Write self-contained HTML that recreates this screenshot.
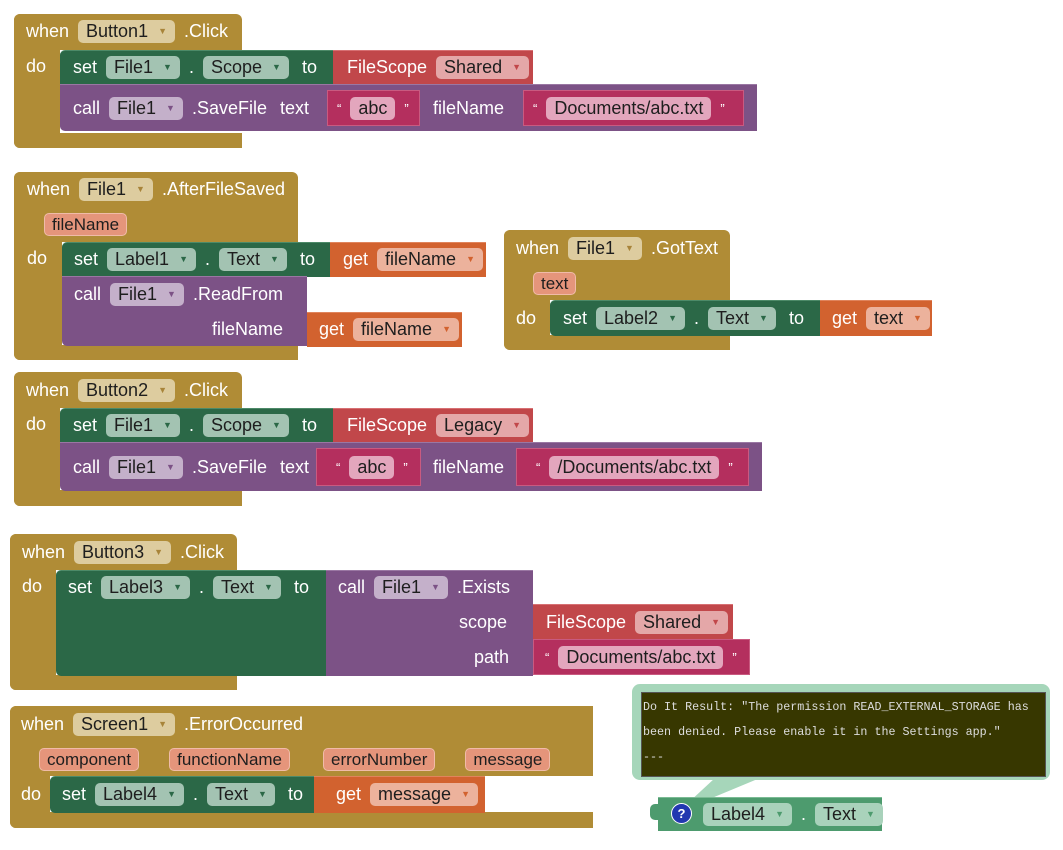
<!DOCTYPE html>
<html><head><meta charset="utf-8"><style>
body{margin:0;width:1063px;height:850px;background:#fff;position:relative;overflow:hidden;font-family:"Liberation Sans",Arial,sans-serif;font-size:18px}
.x{position:absolute}
.g{background:#B08C36}
.gr{background:#2B6847;border-top:1px solid #4d8a68}
.pu{background:#7C5286;border-top:1px solid #9a77a3}
.rd{background:#C1474A;border-top:1px solid #d77073}
.mg{background:#B42F5E;border:1px solid #c95a80;box-sizing:border-box}
.or{background:#D2622F;border-top:1px solid #e0845c}
.r{position:absolute;display:flex;align-items:center;gap:9px;white-space:nowrap;color:#fff;height:26px}
.p{border-radius:5px;padding:0 8px;height:23px;line-height:23px;color:#1e1e1e;display:inline-flex;align-items:center}
.a{font-size:9px;margin-left:10px}
.pg{background:#DDCC9F}.pg .a{color:#A8843A}
.pe{background:#A3C3B2}.pe .a{color:#2B6847}
.pp{background:#C4B0CA}.pp .a{color:#7C5286}
.pr{background:#E4A7A8}.pr .a{color:#C1474A}
.pm{background:#E3A6BD}
.po{background:#ECB29C}.po .a{color:#D2622F}
.pa{background:#E5957B;border:1px solid #F0BBA8;height:21px;line-height:21px;font-size:17px;padding:0 7px}
.q{font-size:13px}
.t{margin-left:4px}
</style></head><body>

<!-- Block 1 -->
<div class="x g" style="left:14px;top:14px;width:228px;height:36px;border-radius:6px 6px 0 0"></div>
<div class="x g" style="left:14px;top:14px;width:46px;height:134px;border-radius:6px 0 0 6px"></div>
<div class="x g" style="left:14px;top:133px;width:228px;height:15px;border-radius:0 0 0 6px"></div>
<div class="r" style="left:26px;top:18px">when <span class="p pg">Button1<span class="a">▼</span></span> .Click</div>
<div class="r" style="left:26px;top:53px">do</div>
<div class="x gr" style="left:60px;top:50px;width:273px;height:34px;border-radius:5px 0 0 0"></div>
<div class="r" style="left:73px;top:54px">set <span class="p pe">File1<span class="a">▼</span></span> . <span class="p pe">Scope<span class="a">▼</span></span><span class="t">to</span></div>
<div class="x rd" style="left:333px;top:50px;width:200px;height:34px"></div>
<div class="r" style="left:347px;top:54px">FileScope <span class="p pr">Shared<span class="a">▼</span></span></div>
<div class="x pu" style="left:60px;top:84px;width:697px;height:46px;border-radius:0 0 0 5px"></div>
<div class="r" style="left:73px;top:95px">call <span class="p pp">File1<span class="a">▼</span></span> .SaveFile <span class="t">text</span></div>
<div class="x mg" style="left:327px;top:90px;width:93px;height:36px"></div>
<div class="r" style="left:337px;top:95px"><span class="q">“</span><span class="p pm">abc</span><span class="q">”</span></div>
<div class="r" style="left:433px;top:95px">fileName</div>
<div class="x mg" style="left:523px;top:90px;width:221px;height:36px"></div>
<div class="r" style="left:533px;top:95px"><span class="q">“</span><span class="p pm">Documents/abc.txt</span><span class="q">”</span></div>

<!-- Block 2 -->
<div class="x g" style="left:14px;top:172px;width:284px;height:70px;border-radius:6px 6px 0 0"></div>
<div class="x g" style="left:14px;top:172px;width:48px;height:188px;border-radius:6px 0 0 6px"></div>
<div class="x g" style="left:14px;top:345px;width:284px;height:15px;border-radius:0 0 0 6px"></div>
<div class="r" style="left:27px;top:176px">when <span class="p pg">File1<span class="a">▼</span></span> .AfterFileSaved</div>
<div class="r" style="left:44px;top:211px"><span class="p pa">fileName</span></div>
<div class="r" style="left:27px;top:245px">do</div>
<div class="x gr" style="left:62px;top:242px;width:268px;height:34px;border-radius:5px 0 0 0"></div>
<div class="r" style="left:74px;top:246px">set <span class="p pe">Label1<span class="a">▼</span></span> . <span class="p pe">Text<span class="a">▼</span></span><span class="t">to</span></div>
<div class="x or" style="left:330px;top:242px;width:156px;height:34px"></div>
<div class="r" style="left:343px;top:246px">get <span class="p po">fileName<span class="a">▼</span></span></div>
<div class="x pu" style="left:62px;top:276px;width:245px;height:69px;border-radius:0 0 0 5px"></div>
<div class="r" style="left:74px;top:281px">call <span class="p pp">File1<span class="a">▼</span></span> .ReadFrom</div>
<div class="r" style="left:212px;top:316px">fileName</div>
<div class="x or" style="left:307px;top:312px;width:155px;height:34px"></div>
<div class="r" style="left:319px;top:316px">get <span class="p po">fileName<span class="a">▼</span></span></div>

<!-- Block 3 -->
<div class="x g" style="left:504px;top:230px;width:226px;height:70px;border-radius:6px 6px 0 0"></div>
<div class="x g" style="left:504px;top:230px;width:46px;height:120px;border-radius:6px 0 0 6px"></div>
<div class="x g" style="left:504px;top:335px;width:226px;height:15px;border-radius:0 0 0 6px"></div>
<div class="r" style="left:516px;top:235px">when <span class="p pg">File1<span class="a">▼</span></span> .GotText</div>
<div class="r" style="left:533px;top:270px"><span class="p pa">text</span></div>
<div class="r" style="left:516px;top:305px">do</div>
<div class="x gr" style="left:550px;top:300px;width:270px;height:35px;border-radius:5px 0 0 5px"></div>
<div class="r" style="left:563px;top:305px">set <span class="p pe">Label2<span class="a">▼</span></span> . <span class="p pe">Text<span class="a">▼</span></span><span class="t">to</span></div>
<div class="x or" style="left:820px;top:300px;width:112px;height:35px"></div>
<div class="r" style="left:832px;top:305px">get <span class="p po">text<span class="a">▼</span></span></div>

<!-- Block 4 -->
<div class="x g" style="left:14px;top:372px;width:228px;height:36px;border-radius:6px 6px 0 0"></div>
<div class="x g" style="left:14px;top:372px;width:46px;height:134px;border-radius:6px 0 0 6px"></div>
<div class="x g" style="left:14px;top:490px;width:228px;height:16px;border-radius:0 0 0 6px"></div>
<div class="r" style="left:26px;top:377px">when <span class="p pg">Button2<span class="a">▼</span></span> .Click</div>
<div class="r" style="left:26px;top:411px">do</div>
<div class="x gr" style="left:60px;top:408px;width:273px;height:34px;border-radius:5px 0 0 0"></div>
<div class="r" style="left:73px;top:412px">set <span class="p pe">File1<span class="a">▼</span></span> . <span class="p pe">Scope<span class="a">▼</span></span><span class="t">to</span></div>
<div class="x rd" style="left:333px;top:408px;width:200px;height:34px"></div>
<div class="r" style="left:347px;top:412px">FileScope <span class="p pr">Legacy<span class="a">▼</span></span></div>
<div class="x pu" style="left:60px;top:442px;width:702px;height:48px;border-radius:0 0 0 5px"></div>
<div class="r" style="left:73px;top:454px">call <span class="p pp">File1<span class="a">▼</span></span> .SaveFile <span class="t">text</span></div>
<div class="x mg" style="left:316px;top:448px;width:105px;height:38px"></div>
<div class="r" style="left:336px;top:454px"><span class="q">“</span><span class="p pm">abc</span><span class="q">”</span></div>
<div class="r" style="left:433px;top:454px">fileName</div>
<div class="x mg" style="left:516px;top:448px;width:233px;height:38px"></div>
<div class="r" style="left:536px;top:454px"><span class="q">“</span><span class="p pm">/Documents/abc.txt</span><span class="q">”</span></div>

<!-- Block 5 -->
<div class="x g" style="left:10px;top:534px;width:227px;height:36px;border-radius:6px 6px 0 0"></div>
<div class="x g" style="left:10px;top:534px;width:46px;height:156px;border-radius:6px 0 0 6px"></div>
<div class="x g" style="left:10px;top:675px;width:227px;height:15px;border-radius:0 0 0 6px"></div>
<div class="r" style="left:22px;top:539px">when <span class="p pg">Button3<span class="a">▼</span></span> .Click</div>
<div class="r" style="left:22px;top:573px">do</div>
<div class="x gr" style="left:56px;top:570px;width:270px;height:105px;border-radius:5px 0 0 5px"></div>
<div class="r" style="left:68px;top:574px">set <span class="p pe">Label3<span class="a">▼</span></span> . <span class="p pe">Text<span class="a">▼</span></span><span class="t">to</span></div>
<div class="x pu" style="left:326px;top:570px;width:207px;height:105px"></div>
<div class="r" style="left:338px;top:574px">call <span class="p pp">File1<span class="a">▼</span></span> .Exists</div>
<div class="r" style="left:459px;top:609px">scope</div>
<div class="r" style="left:474px;top:644px">path</div>
<div class="x rd" style="left:533px;top:604px;width:200px;height:35px"></div>
<div class="r" style="left:546px;top:609px">FileScope <span class="p pr">Shared<span class="a">▼</span></span></div>
<div class="x mg" style="left:533px;top:639px;width:217px;height:36px"></div>
<div class="r" style="left:545px;top:644px"><span class="q">“</span><span class="p pm">Documents/abc.txt</span><span class="q">”</span></div>

<!-- Block 6 -->
<div class="x g" style="left:10px;top:706px;width:583px;height:70px;border-radius:6px 0 0 0"></div>
<div class="x g" style="left:10px;top:706px;width:40px;height:122px;border-radius:6px 0 0 6px"></div>
<div class="x g" style="left:10px;top:812px;width:583px;height:16px;border-radius:0 0 0 6px"></div>
<div class="r" style="left:21px;top:711px">when <span class="p pg">Screen1<span class="a">▼</span></span> .ErrorOccurred</div>
<div class="r" style="left:39px;top:746px;gap:0"><span class="p pa">component</span><span class="p pa" style="margin-left:30px">functionName</span><span class="p pa" style="margin-left:33px">errorNumber</span><span class="p pa" style="margin-left:30px">message</span></div>
<div class="r" style="left:21px;top:781px">do</div>
<div class="x gr" style="left:50px;top:776px;width:264px;height:36px;border-radius:5px 0 0 5px"></div>
<div class="r" style="left:62px;top:781px">set <span class="p pe">Label4<span class="a">▼</span></span> . <span class="p pe">Text<span class="a">▼</span></span><span class="t">to</span></div>
<div class="x or" style="left:314px;top:776px;width:171px;height:36px"></div>
<div class="r" style="left:336px;top:781px">get <span class="p po">message<span class="a">▼</span></span></div>

<!-- Tooltip -->
<svg class="x" style="left:0;top:0" width="1063" height="850">
<polygon points="715,778 760,778 695,805 688,803" fill="#A6D6BA"/>
</svg>
<div class="x" style="left:632px;top:684px;width:418px;height:96px;background:#A6D6BA;border-radius:8px"></div>
<div class="x" style="left:641px;top:692px;width:403px;height:83px;background:#373700;border:1px solid #555"></div>
<div class="x" style="left:643px;top:695px;color:#ddd;font-family:'Liberation Mono',monospace;font-size:11.7px;line-height:25px;white-space:pre">Do It Result: "The permission READ_EXTERNAL_STORAGE has
been denied. Please enable it in the Settings app."
---</div>
<div class="x" style="left:658px;top:797px;width:224px;height:33px;background:#4D9B6E;border-top:1px solid #7bbb94"></div>
<div class="x" style="left:650px;top:804px;width:10px;height:16px;background:#4D9B6E;border-radius:5px 0 0 5px"></div>
<div class="x" style="left:671px;top:803px;width:19px;height:19px;border-radius:50%;background:#2238B0;border:1px solid #fff;color:#fff;font-size:13px;font-weight:bold;text-align:center;line-height:19px">?</div>
<div class="r" style="left:703px;top:801px;color:#222"><span class="p pe" style="background:#A9D2BB">Label4<span class="a" style="color:#4D9B6E">▼</span></span><span style="color:#fff">.</span><span class="p pe" style="background:#A9D2BB">Text<span class="a" style="color:#4D9B6E">▼</span></span></div>

</body></html>
